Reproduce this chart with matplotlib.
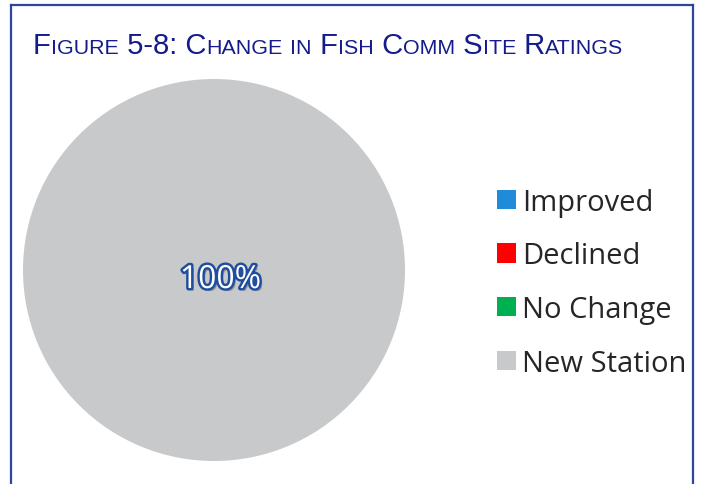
import matplotlib
matplotlib.use("Agg")
import matplotlib.pyplot as plt
import matplotlib.patheffects as pe
from matplotlib.lines import Line2D

# ---------------------------------------------------------------
# Data
# ---------------------------------------------------------------
categories = ["Improved", "Declined", "No Change", "New Station"]
site_counts = [0, 0, 0, 100]
colors = ["#1E8CD8", "#FF0000", "#00B050", "#C8C9CB"]
title = "Figure 5-8: Change in Fish Comm Site Ratings"

W, H = 701, 485
fig = plt.figure(figsize=(W / 100, H / 100), dpi=100)
fig.patch.set_facecolor("white")

# ---------------------------------------------------------------
# Pie
# ---------------------------------------------------------------
cx, cy, r = 214, 271, 191
ax = fig.add_axes([(cx - r) / W, (H - cy - r) / H, 2 * r / W, 2 * r / H])


def pct_label(p):
    return f"{p:.0f}%" if p > 0 else ""


wedges, _, autotexts = ax.pie(site_counts, colors=colors, startangle=90,
                              counterclock=False, autopct=pct_label,
                              pctdistance=0.05, radius=1.0,
                              wedgeprops=dict(linewidth=0))
ax.set_xlim(-1, 1)
ax.set_ylim(-1, 1)
ax.set_aspect("equal")

for t in autotexts:
    px, py = t.get_position()
    t.set_position((px + 0.035, py))
    t.set_fontsize(23)
    t.set_color("white")
    t.set_family("Open Sans")
    t.set_path_effects([
        pe.withSimplePatchShadow(offset=(2, -2), shadow_rgbFace="#555555", alpha=0.45),
        pe.Stroke(linewidth=3.5, foreground="#1F4E9E"),
        pe.Normal(),
    ])

# ---------------------------------------------------------------
# Legend
# ---------------------------------------------------------------
fig.legend(wedges, categories, loc="upper left",
           bbox_to_anchor=(482 / W, 1 - 174 / H),
           frameon=False, handlelength=0.65, handleheight=0.65,
           handletextpad=0.22, labelspacing=0.845, borderpad=0,
           prop=dict(family="Open Sans", size=21), labelcolor="#262626")

# ---------------------------------------------------------------
# Frame around the figure (open at the bottom)
# ---------------------------------------------------------------
frame_col = "#2E45A0"
left, right, top = 10.5 / W, 692.5 / W, 1 - 5.5 / H
fig.add_artist(Line2D([left, left], [-0.05, top], color=frame_col, lw=1.6))
fig.add_artist(Line2D([right, right], [-0.05, top], color=frame_col, lw=1.6))
fig.add_artist(Line2D([left, right], [top, top], color=frame_col, lw=1.6))

# ---------------------------------------------------------------
# Title in small caps: lowercase letters drawn as smaller capitals
# ---------------------------------------------------------------
big, small = 21.1, 15.4
title_col = "#141C8C"
fig.canvas.draw()
renderer = fig.canvas.get_renderer()
x = 33
y = 1 - 54.5 / H
chunks = []
for ch in title:
    size = small if ch.islower() else big
    if chunks and chunks[-1][1] == size:
        chunks[-1][0] += ch.upper()
    else:
        chunks.append([ch.upper(), size])

for txt, size in chunks:
    t = fig.text(x / W, y, txt, fontsize=size, color=title_col,
                 family="Liberation Sans", va="baseline", ha="left")
    bb = t.get_window_extent(renderer=renderer)
    x += bb.width

fig.savefig("out.png", dpi=100, facecolor="white")
